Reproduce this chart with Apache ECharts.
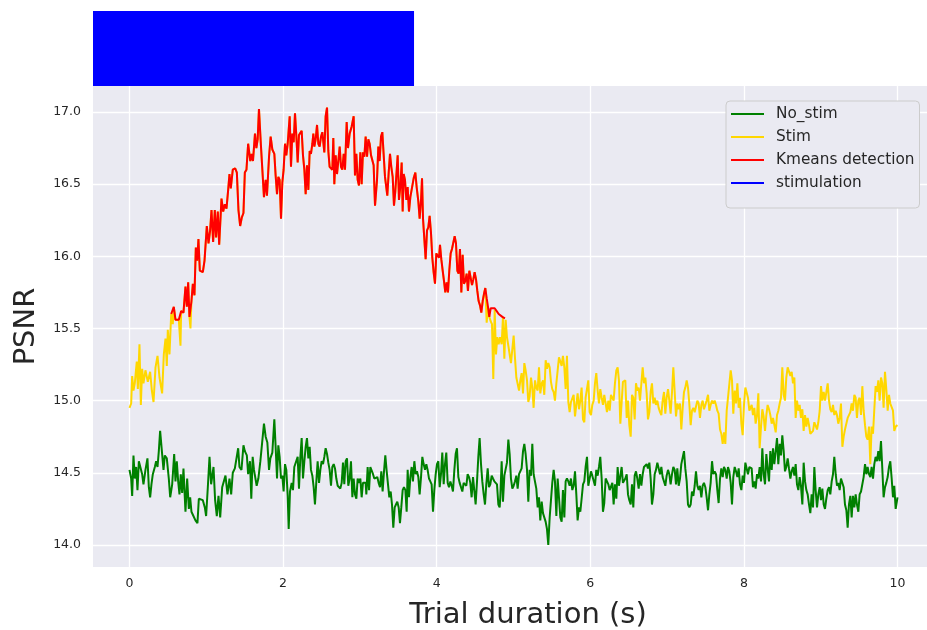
<!DOCTYPE html>
<html>
<head>
<meta charset="utf-8">
<title>PSNR</title>
<script src="https://cdn.jsdelivr.net/npm/echarts@6/dist/echarts.min.js"></script>
<style>
  html, body { margin: 0; padding: 0; background: #fff; }
  #chart { width: 927px; height: 630px; }
</style>
</head>
<body>
<div id="chart"></div>
<script>
// tick labels
const xTicks = [0, 2, 4, 6, 8, 10]
const yTicks = [14.0, 14.5, 15.0, 15.5, 16.0, 16.5, 17.0]

// [time (s), PSNR]
const noStim = [
  [0.000, 14.52], [0.022, 14.46], [0.035, 14.34], [0.052, 14.62], [0.069, 14.46], [0.087, 14.54], [0.104, 14.38], [0.122, 14.58],
  [0.143, 14.57], [0.165, 14.49], [0.182, 14.42], [0.208, 14.52], [0.234, 14.60], [0.252, 14.40], [0.269, 14.33], [0.286, 14.42],
  [0.304, 14.49], [0.330, 14.54], [0.347, 14.58], [0.365, 14.54], [0.382, 14.65], [0.399, 14.79], [0.425, 14.80], [0.443, 14.52],
  [0.460, 14.62], [0.486, 14.60], [0.512, 14.46], [0.530, 14.33], [0.556, 14.42], [0.582, 14.63], [0.599, 14.44], [0.616, 14.58],
  [0.634, 14.44], [0.651, 14.35], [0.668, 14.49], [0.686, 14.36], [0.703, 14.53], [0.729, 14.23], [0.751, 14.46], [0.773, 14.25],
  [0.790, 14.33], [0.807, 14.23], [0.833, 14.22], [0.859, 14.17], [0.885, 14.15], [0.903, 14.32], [0.929, 14.32], [0.955, 14.31],
  [0.981, 14.26], [0.998, 14.20], [1.020, 14.40], [1.042, 14.61], [1.063, 14.42], [1.094, 14.54], [1.115, 14.31], [1.137, 14.20],
  [1.159, 14.34], [1.181, 14.19], [1.207, 14.40], [1.224, 14.41], [1.250, 14.48], [1.276, 14.35], [1.302, 14.46], [1.324, 14.35],
  [1.345, 14.50], [1.372, 14.53], [1.398, 14.54], [1.415, 14.67], [1.432, 14.54], [1.458, 14.52], [1.484, 14.69], [1.502, 14.65],
  [1.528, 14.62], [1.545, 14.49], [1.569, 14.58], [1.586, 14.32], [1.604, 14.61], [1.621, 14.52], [1.639, 14.52], [1.656, 14.41],
  [1.678, 14.46], [1.704, 14.58], [1.730, 14.57], [1.751, 14.84], [1.773, 14.75], [1.795, 14.71], [1.817, 14.52], [1.834, 14.60],
  [1.860, 14.64], [1.886, 14.87], [1.903, 14.68], [1.921, 14.46], [1.938, 14.69], [1.955, 14.61], [1.973, 14.46], [1.990, 14.48],
  [2.007, 14.37], [2.025, 14.56], [2.042, 14.52], [2.060, 14.34], [2.073, 14.11], [2.090, 14.37], [2.112, 14.43], [2.129, 14.38],
  [2.146, 14.54], [2.172, 14.54], [2.190, 14.61], [2.207, 14.39], [2.224, 14.60], [2.242, 14.74], [2.259, 14.46], [2.277, 14.58],
  [2.294, 14.68], [2.311, 14.74], [2.329, 14.60], [2.346, 14.68], [2.363, 14.52], [2.381, 14.48], [2.398, 14.40], [2.415, 14.28],
  [2.433, 14.44], [2.450, 14.58], [2.468, 14.43], [2.485, 14.52], [2.502, 14.58], [2.520, 14.56], [2.537, 14.61], [2.554, 14.67],
  [2.572, 14.63], [2.589, 14.57], [2.606, 14.52], [2.624, 14.41], [2.641, 14.54], [2.659, 14.56], [2.676, 14.53], [2.693, 14.46],
  [2.711, 14.41], [2.728, 14.42], [2.745, 14.39], [2.763, 14.43], [2.780, 14.57], [2.797, 14.42], [2.815, 14.58], [2.832, 14.60],
  [2.849, 14.41], [2.867, 14.46], [2.884, 14.58], [2.902, 14.33], [2.919, 14.46], [2.936, 14.35], [2.954, 14.32], [2.971, 14.46],
  [2.988, 14.43], [3.006, 14.46], [3.023, 14.33], [3.040, 14.43], [3.058, 14.42], [3.075, 14.43], [3.084, 14.35], [3.101, 14.54],
  [3.119, 14.38], [3.136, 14.54], [3.153, 14.53], [3.171, 14.49], [3.188, 14.46], [3.210, 14.46], [3.227, 14.47], [3.244, 14.43],
  [3.262, 14.40], [3.279, 14.51], [3.296, 14.37], [3.314, 14.51], [3.331, 14.62], [3.349, 14.51], [3.366, 14.51], [3.383, 14.33],
  [3.401, 14.37], [3.418, 14.28], [3.435, 14.12], [3.453, 14.26], [3.470, 14.28], [3.487, 14.30], [3.505, 14.26], [3.522, 14.15],
  [3.539, 14.26], [3.557, 14.38], [3.574, 14.40], [3.592, 14.38], [3.609, 14.23], [3.622, 14.52], [3.639, 14.33], [3.657, 14.47],
  [3.674, 14.54], [3.691, 14.44], [3.709, 14.58], [3.726, 14.49], [3.743, 14.51], [3.761, 14.47], [3.778, 14.35], [3.796, 14.47],
  [3.813, 14.61], [3.830, 14.56], [3.848, 14.52], [3.865, 14.56], [3.882, 14.52], [3.900, 14.46], [3.917, 14.44], [3.934, 14.42],
  [3.952, 14.23], [3.969, 14.38], [3.987, 14.49], [4.004, 14.56], [4.021, 14.58], [4.039, 14.40], [4.056, 14.49], [4.073, 14.64],
  [4.091, 14.42], [4.108, 14.56], [4.125, 14.64], [4.143, 14.43], [4.160, 14.40], [4.178, 14.44], [4.195, 14.41], [4.212, 14.37],
  [4.230, 14.52], [4.247, 14.63], [4.264, 14.67], [4.282, 14.47], [4.299, 14.43], [4.316, 14.42], [4.334, 14.37], [4.351, 14.43],
  [4.369, 14.44], [4.386, 14.41], [4.403, 14.49], [4.421, 14.47], [4.438, 14.43], [4.455, 14.33], [4.473, 14.47], [4.490, 14.46],
  [4.507, 14.28], [4.525, 14.44], [4.542, 14.61], [4.559, 14.74], [4.577, 14.56], [4.594, 14.44], [4.612, 14.35], [4.629, 14.28],
  [4.646, 14.42], [4.664, 14.53], [4.681, 14.40], [4.698, 14.42], [4.716, 14.48], [4.733, 14.46], [4.751, 14.44], [4.768, 14.43],
  [4.785, 14.42], [4.803, 14.28], [4.820, 14.26], [4.828, 14.33], [4.846, 14.58], [4.863, 14.30], [4.881, 14.48], [4.898, 14.49],
  [4.915, 14.57], [4.933, 14.73], [4.950, 14.63], [4.967, 14.46], [4.985, 14.39], [5.002, 14.41], [5.019, 14.44], [5.037, 14.48],
  [5.054, 14.39], [5.072, 14.49], [5.089, 14.48], [5.106, 14.53], [5.124, 14.65], [5.141, 14.70], [5.158, 14.63], [5.176, 14.52],
  [5.193, 14.30], [5.210, 14.52], [5.228, 14.48], [5.245, 14.70], [5.262, 14.49], [5.280, 14.48], [5.297, 14.39], [5.315, 14.26],
  [5.332, 14.33], [5.349, 14.17], [5.367, 14.30], [5.384, 14.22], [5.401, 14.23], [5.419, 14.16], [5.436, 14.11], [5.453, 14.00],
  [5.471, 14.19], [5.488, 14.31], [5.505, 14.43], [5.523, 14.52], [5.540, 14.44], [5.558, 14.20], [5.575, 14.46], [5.592, 14.33],
  [5.610, 14.19], [5.627, 14.16], [5.644, 14.38], [5.662, 14.19], [5.679, 14.44], [5.696, 14.46], [5.714, 14.44], [5.731, 14.41],
  [5.748, 14.46], [5.766, 14.38], [5.783, 14.41], [5.801, 14.51], [5.818, 14.35], [5.835, 14.17], [5.853, 14.26], [5.870, 14.23],
  [5.887, 14.32], [5.905, 14.42], [5.922, 14.44], [5.939, 14.54], [5.957, 14.61], [5.974, 14.41], [5.991, 14.40], [6.009, 14.51],
  [6.026, 14.48], [6.044, 14.49], [6.061, 14.41], [6.078, 14.52], [6.096, 14.48], [6.113, 14.54], [6.130, 14.61], [6.148, 14.46],
  [6.165, 14.23], [6.182, 14.29], [6.200, 14.46], [6.217, 14.46], [6.235, 14.42], [6.252, 14.38], [6.269, 14.37], [6.287, 14.43],
  [6.304, 14.28], [6.321, 14.42], [6.339, 14.32], [6.356, 14.54], [6.373, 14.41], [6.391, 14.42], [6.408, 14.54], [6.425, 14.43],
  [6.443, 14.44], [6.456, 14.46], [6.474, 14.49], [6.491, 14.35], [6.508, 14.31], [6.526, 14.28], [6.543, 14.42], [6.560, 14.26],
  [6.578, 14.48], [6.595, 14.51], [6.612, 14.46], [6.630, 14.39], [6.647, 14.49], [6.665, 14.41], [6.682, 14.49], [6.699, 14.54],
  [6.717, 14.53], [6.734, 14.56], [6.751, 14.53], [6.769, 14.57], [6.786, 14.46], [6.803, 14.28], [6.821, 14.35], [6.838, 14.49],
  [6.855, 14.52], [6.873, 14.57], [6.890, 14.58], [6.908, 14.49], [6.925, 14.54], [6.942, 14.47], [6.960, 14.46], [6.977, 14.41],
  [6.994, 14.48], [7.012, 14.52], [7.029, 14.49], [7.046, 14.42], [7.064, 14.49], [7.081, 14.54], [7.099, 14.52], [7.116, 14.42],
  [7.133, 14.53], [7.151, 14.41], [7.168, 14.46], [7.185, 14.56], [7.203, 14.56], [7.220, 14.65], [7.237, 14.53], [7.255, 14.44],
  [7.272, 14.28], [7.289, 14.26], [7.307, 14.28], [7.324, 14.37], [7.342, 14.34], [7.359, 14.41], [7.376, 14.51], [7.394, 14.41],
  [7.411, 14.38], [7.428, 14.41], [7.446, 14.33], [7.463, 14.41], [7.480, 14.43], [7.498, 14.40], [7.515, 14.33], [7.533, 14.24],
  [7.550, 14.35], [7.567, 14.43], [7.585, 14.58], [7.602, 14.49], [7.619, 14.51], [7.637, 14.49], [7.654, 14.38], [7.671, 14.29],
  [7.689, 14.46], [7.706, 14.53], [7.724, 14.47], [7.741, 14.54], [7.758, 14.52], [7.776, 14.46], [7.793, 14.54], [7.810, 14.51],
  [7.828, 14.43], [7.845, 14.28], [7.862, 14.47], [7.880, 14.54], [7.897, 14.51], [7.915, 14.47], [7.932, 14.53], [7.949, 14.42],
  [7.967, 14.38], [7.984, 14.48], [8.001, 14.43], [8.019, 14.57], [8.036, 14.56], [8.053, 14.49], [8.071, 14.54], [8.101, 14.53],
  [8.118, 14.40], [8.136, 14.44], [8.153, 14.39], [8.171, 14.49], [8.188, 14.46], [8.205, 14.54], [8.223, 14.44], [8.240, 14.67],
  [8.257, 14.49], [8.275, 14.42], [8.292, 14.63], [8.309, 14.53], [8.327, 14.44], [8.344, 14.65], [8.362, 14.52], [8.379, 14.67],
  [8.396, 14.56], [8.414, 14.65], [8.431, 14.74], [8.448, 14.56], [8.466, 14.70], [8.483, 14.62], [8.500, 14.76], [8.518, 14.65],
  [8.535, 14.51], [8.552, 14.54], [8.570, 14.60], [8.587, 14.53], [8.605, 14.46], [8.622, 14.51], [8.639, 14.54], [8.657, 14.48],
  [8.674, 14.56], [8.691, 14.42], [8.709, 14.38], [8.726, 14.47], [8.743, 14.41], [8.761, 14.28], [8.778, 14.57], [8.796, 14.44],
  [8.813, 14.38], [8.830, 14.35], [8.848, 14.28], [8.865, 14.22], [8.882, 14.35], [8.900, 14.26], [8.917, 14.54], [8.934, 14.38],
  [8.952, 14.26], [8.969, 14.35], [8.987, 14.40], [9.004, 14.31], [9.021, 14.39], [9.039, 14.28], [9.056, 14.25], [9.073, 14.32],
  [9.091, 14.38], [9.108, 14.40], [9.125, 14.35], [9.143, 14.44], [9.160, 14.49], [9.177, 14.61], [9.195, 14.49], [9.212, 14.41],
  [9.229, 14.43], [9.247, 14.38], [9.264, 14.46], [9.282, 14.47], [9.299, 14.40], [9.316, 14.28], [9.334, 14.24], [9.351, 14.12],
  [9.368, 14.28], [9.386, 14.34], [9.403, 14.19], [9.420, 14.34], [9.438, 14.26], [9.455, 14.35], [9.472, 14.28], [9.490, 14.23],
  [9.507, 14.35], [9.525, 14.37], [9.542, 14.38], [9.559, 14.47], [9.577, 14.56], [9.594, 14.49], [9.611, 14.54], [9.629, 14.49],
  [9.646, 14.47], [9.663, 14.54], [9.681, 14.46], [9.698, 14.56], [9.715, 14.61], [9.733, 14.58], [9.750, 14.65], [9.767, 14.58],
  [9.785, 14.72], [9.802, 14.53], [9.819, 14.33], [9.837, 14.40], [9.854, 14.43], [9.872, 14.47], [9.889, 14.54], [9.906, 14.58],
  [9.924, 14.46], [9.941, 14.33], [9.958, 14.41], [9.976, 14.25], [10.000, 14.33]
]

// stim samples that are not covered by the kmeans detection
const stim = [
  [0.000, 14.95], [0.022, 14.98], [0.035, 15.17], [0.052, 15.07], [0.069, 15.12], [0.095, 15.27], [0.109, 15.08], [0.130, 15.39],
  [0.148, 14.97], [0.165, 15.22], [0.182, 15.12], [0.208, 15.21], [0.239, 15.13], [0.269, 15.20], [0.291, 15.07], [0.313, 14.99],
  [0.339, 15.23], [0.365, 15.31], [0.391, 15.16], [0.425, 15.05], [0.447, 15.32], [0.469, 15.43], [0.486, 15.24], [0.499, 15.49],
  [0.521, 15.32], [0.564, 15.53], [0.664, 15.38], [0.794, 15.50],
  [4.651, 15.54], [4.668, 15.65], [4.685, 15.58], [4.703, 15.55], [4.720, 15.53], [4.737, 15.15], [4.755, 15.63], [4.772, 15.32],
  [4.789, 15.44], [4.807, 15.39], [4.824, 15.44], [4.846, 15.39], [4.863, 15.58], [4.881, 15.29], [4.898, 15.56], [4.915, 15.44],
  [4.933, 15.38], [4.950, 15.37], [4.967, 15.26], [4.985, 15.26], [5.002, 15.45], [5.019, 15.30], [5.037, 15.16], [5.054, 15.17],
  [5.072, 15.07], [5.089, 15.14], [5.106, 15.19], [5.124, 15.05], [5.141, 15.26], [5.158, 15.21], [5.176, 15.14], [5.193, 14.99],
  [5.210, 15.03], [5.228, 15.16], [5.245, 15.09], [5.262, 14.95], [5.280, 15.14], [5.297, 15.09], [5.315, 15.07], [5.332, 15.23],
  [5.349, 15.05], [5.367, 15.12], [5.384, 15.14], [5.401, 15.04], [5.419, 15.28], [5.436, 15.22], [5.453, 15.26], [5.471, 15.23],
  [5.488, 15.13], [5.505, 15.08], [5.523, 15.06], [5.540, 15.00], [5.558, 15.12], [5.575, 15.21], [5.592, 15.30], [5.610, 15.27],
  [5.627, 15.24], [5.644, 15.31], [5.662, 15.23], [5.679, 15.08], [5.696, 15.31], [5.714, 14.99], [5.731, 14.92], [5.748, 14.99],
  [5.766, 14.99], [5.783, 15.04], [5.801, 14.89], [5.818, 14.88], [5.835, 15.05], [5.853, 14.94], [5.870, 15.00], [5.887, 15.09],
  [5.905, 14.87], [5.922, 14.85], [5.939, 15.02], [5.957, 15.02], [5.974, 15.14], [5.991, 14.92], [6.009, 14.90], [6.026, 14.97],
  [6.044, 15.00], [6.061, 15.12], [6.078, 15.19], [6.096, 15.07], [6.113, 14.98], [6.130, 15.08], [6.148, 15.02], [6.165, 14.97],
  [6.182, 15.04], [6.200, 14.98], [6.217, 14.92], [6.235, 15.00], [6.252, 14.93], [6.269, 15.04], [6.287, 15.05], [6.304, 15.00],
  [6.321, 15.12], [6.339, 15.21], [6.356, 15.23], [6.373, 15.14], [6.391, 14.84], [6.408, 14.83], [6.425, 15.13], [6.443, 15.14],
  [6.456, 15.14], [6.474, 14.88], [6.491, 15.00], [6.508, 14.83], [6.526, 14.75], [6.543, 15.04], [6.560, 15.02], [6.578, 14.87],
  [6.595, 15.12], [6.612, 15.07], [6.630, 15.09], [6.647, 15.00], [6.665, 15.12], [6.682, 15.23], [6.699, 15.12], [6.717, 15.16],
  [6.734, 15.05], [6.751, 14.87], [6.769, 14.92], [6.786, 15.06], [6.803, 15.12], [6.821, 14.98], [6.838, 15.02], [6.855, 14.97],
  [6.873, 15.00], [6.890, 14.95], [6.908, 14.92], [6.925, 14.90], [6.942, 15.00], [6.960, 15.06], [6.977, 14.91], [6.994, 15.02],
  [7.012, 15.08], [7.029, 15.00], [7.046, 14.91], [7.064, 15.06], [7.081, 15.23], [7.099, 15.06], [7.116, 14.89], [7.133, 14.98],
  [7.151, 14.94], [7.168, 14.98], [7.185, 14.80], [7.203, 14.95], [7.220, 15.06], [7.237, 15.09], [7.255, 15.14], [7.272, 15.09],
  [7.289, 14.98], [7.307, 14.83], [7.324, 14.93], [7.342, 14.95], [7.359, 14.92], [7.376, 14.91], [7.394, 15.00], [7.411, 14.98],
  [7.428, 14.88], [7.446, 14.97], [7.463, 15.00], [7.480, 14.94], [7.498, 14.93], [7.515, 15.00], [7.533, 15.04], [7.550, 14.93],
  [7.567, 14.97], [7.585, 15.00], [7.602, 14.98], [7.619, 15.00], [7.637, 14.97], [7.654, 14.93], [7.671, 14.91], [7.689, 14.80],
  [7.706, 14.77], [7.724, 14.70], [7.741, 14.78], [7.758, 14.70], [7.776, 14.93], [7.793, 15.02], [7.810, 15.02], [7.828, 15.21],
  [7.845, 15.14], [7.862, 14.91], [7.880, 15.07], [7.897, 14.98], [7.915, 15.12], [7.932, 14.95], [7.949, 15.02], [7.967, 14.84],
  [7.984, 14.76], [8.001, 14.97], [8.019, 15.09], [8.036, 15.08], [8.053, 15.02], [8.071, 14.93], [8.101, 14.97], [8.118, 14.90],
  [8.136, 14.95], [8.153, 14.84], [8.171, 14.90], [8.188, 15.05], [8.205, 14.67], [8.223, 14.82], [8.240, 14.94], [8.257, 14.89],
  [8.275, 14.79], [8.292, 14.90], [8.309, 14.97], [8.327, 14.94], [8.344, 14.90], [8.362, 14.84], [8.379, 14.88], [8.396, 14.87],
  [8.414, 14.78], [8.431, 14.90], [8.448, 14.93], [8.466, 14.98], [8.483, 15.02], [8.500, 15.23], [8.518, 15.04], [8.535, 15.00],
  [8.552, 15.16], [8.570, 15.23], [8.587, 15.22], [8.605, 15.17], [8.622, 15.20], [8.639, 15.12], [8.657, 15.16], [8.674, 14.88],
  [8.691, 15.00], [8.709, 14.93], [8.726, 14.97], [8.743, 14.88], [8.761, 14.94], [8.778, 14.79], [8.796, 14.90], [8.813, 14.82],
  [8.830, 14.88], [8.848, 14.83], [8.865, 14.77], [8.882, 14.76], [8.900, 14.79], [8.917, 14.85], [8.934, 14.84], [8.952, 14.80],
  [8.969, 14.85], [8.987, 14.93], [9.004, 15.10], [9.021, 15.00], [9.039, 15.06], [9.056, 15.00], [9.073, 15.00], [9.091, 15.12],
  [9.108, 15.00], [9.125, 14.94], [9.143, 14.92], [9.160, 14.97], [9.177, 14.90], [9.195, 14.93], [9.212, 14.90], [9.229, 14.84],
  [9.247, 14.88], [9.264, 14.98], [9.282, 14.68], [9.299, 14.75], [9.316, 14.80], [9.334, 14.79], [9.351, 14.88], [9.368, 14.87],
  [9.386, 14.92], [9.403, 14.98], [9.420, 14.93], [9.438, 15.04], [9.455, 15.02], [9.472, 14.88], [9.490, 15.00], [9.507, 15.02],
  [9.525, 14.90], [9.542, 15.10], [9.559, 14.93], [9.577, 14.83], [9.594, 14.75], [9.611, 14.73], [9.629, 14.82], [9.646, 14.56],
  [9.663, 14.82], [9.681, 14.77], [9.698, 14.94], [9.715, 15.10], [9.733, 15.06], [9.750, 15.14], [9.767, 15.00], [9.785, 15.16],
  [9.802, 15.12], [9.819, 14.95], [9.837, 15.20], [9.854, 15.08], [9.872, 14.93], [9.889, 15.04], [9.906, 14.98], [9.924, 14.97],
  [9.941, 14.93], [9.958, 14.79], [9.976, 14.82], [10.000, 14.83]
]

// part of the stim trace flagged by kmeans
const kmeans = [
  [0.543, 15.60], [0.577, 15.65], [0.599, 15.56], [0.642, 15.56], [0.673, 15.62], [0.703, 15.61], [0.729, 15.79], [0.747, 15.65],
  [0.764, 15.82], [0.781, 15.58], [0.807, 15.69], [0.825, 15.81], [0.846, 15.73], [0.864, 16.06], [0.881, 15.97], [0.898, 16.12],
  [0.916, 15.90], [0.938, 15.91], [0.955, 15.89], [0.977, 15.97], [1.007, 16.21], [1.029, 16.09], [1.050, 16.18], [1.068, 16.32],
  [1.089, 16.10], [1.111, 16.32], [1.128, 16.13], [1.150, 16.31], [1.168, 16.08], [1.198, 16.40], [1.220, 16.31], [1.241, 16.36],
  [1.263, 16.33], [1.285, 16.46], [1.302, 16.57], [1.319, 16.47], [1.345, 16.60], [1.376, 16.61], [1.398, 16.58], [1.419, 16.32],
  [1.441, 16.21], [1.463, 16.27], [1.484, 16.30], [1.502, 16.58], [1.523, 16.60], [1.545, 16.78], [1.573, 16.66], [1.591, 16.71],
  [1.608, 16.66], [1.634, 16.85], [1.652, 16.75], [1.669, 16.81], [1.686, 17.02], [1.708, 16.80], [1.730, 16.60], [1.751, 16.41],
  [1.773, 16.53], [1.790, 16.42], [1.817, 16.69], [1.838, 16.83], [1.860, 16.74], [1.886, 16.71], [1.903, 16.56], [1.921, 16.43],
  [1.938, 16.55], [1.955, 16.53], [1.973, 16.26], [1.990, 16.51], [2.007, 16.60], [2.025, 16.78], [2.042, 16.70], [2.060, 16.78],
  [2.086, 16.97], [2.103, 16.62], [2.120, 16.85], [2.138, 16.79], [2.155, 16.99], [2.172, 16.84], [2.190, 16.65], [2.207, 16.84],
  [2.224, 16.85], [2.242, 16.87], [2.259, 16.70], [2.277, 16.60], [2.294, 16.43], [2.311, 16.63], [2.329, 16.46], [2.346, 16.73],
  [2.363, 16.71], [2.381, 16.78], [2.394, 16.85], [2.407, 16.76], [2.424, 16.81], [2.442, 16.91], [2.459, 16.78], [2.476, 16.76],
  [2.494, 16.83], [2.511, 16.86], [2.528, 16.85], [2.537, 16.72], [2.554, 16.97], [2.572, 17.03], [2.589, 16.73], [2.606, 16.62],
  [2.624, 16.61], [2.641, 16.60], [2.654, 16.82], [2.667, 16.50], [2.685, 16.70], [2.702, 16.57], [2.719, 16.66], [2.737, 16.76],
  [2.754, 16.62], [2.771, 16.60], [2.789, 16.71], [2.806, 16.60], [2.828, 16.93], [2.845, 16.75], [2.867, 16.85], [2.893, 16.90],
  [2.919, 16.97], [2.936, 16.56], [2.954, 16.71], [2.971, 16.53], [2.988, 16.49], [3.006, 16.72], [3.023, 16.50], [3.040, 16.72],
  [3.058, 16.69], [3.075, 16.83], [3.093, 16.69], [3.110, 16.81], [3.127, 16.78], [3.145, 16.70], [3.162, 16.69], [3.179, 16.63],
  [3.197, 16.35], [3.223, 16.53], [3.240, 16.76], [3.257, 16.66], [3.275, 16.83], [3.292, 16.86], [3.309, 16.71], [3.327, 16.55],
  [3.344, 16.54], [3.357, 16.42], [3.375, 16.58], [3.392, 16.71], [3.409, 16.62], [3.427, 16.55], [3.444, 16.35], [3.461, 16.45],
  [3.479, 16.45], [3.492, 16.70], [3.509, 16.39], [3.526, 16.48], [3.544, 16.65], [3.557, 16.31], [3.570, 16.57], [3.587, 16.53],
  [3.605, 16.39], [3.622, 16.48], [3.639, 16.31], [3.657, 16.41], [3.678, 16.41], [3.700, 16.54], [3.722, 16.58], [3.739, 16.48],
  [3.761, 16.38], [3.778, 16.26], [3.796, 16.39], [3.809, 16.54], [3.822, 16.26], [3.839, 16.27], [3.856, 15.98], [3.874, 16.18],
  [3.891, 16.20], [3.908, 16.28], [3.926, 16.16], [3.943, 15.99], [3.960, 15.89], [3.978, 15.81], [3.995, 16.02], [4.013, 16.03],
  [4.030, 15.99], [4.043, 16.08], [4.060, 15.98], [4.078, 15.90], [4.095, 15.83], [4.112, 15.75], [4.130, 15.82], [4.147, 15.75],
  [4.164, 15.90], [4.182, 16.02], [4.199, 16.05], [4.217, 16.06], [4.234, 16.14], [4.251, 16.09], [4.269, 15.90], [4.286, 15.88],
  [4.303, 16.05], [4.321, 15.75], [4.338, 16.01], [4.355, 15.81], [4.373, 15.83], [4.390, 15.88], [4.407, 15.76], [4.425, 15.90],
  [4.442, 15.89], [4.460, 15.80], [4.477, 15.84], [4.494, 15.89], [4.512, 15.84], [4.529, 15.76], [4.546, 15.69], [4.564, 15.66],
  [4.581, 15.61], [4.599, 15.69], [4.616, 15.74], [4.633, 15.78], [4.651, 15.71], [4.668, 15.65], [4.685, 15.58], [4.703, 15.64],
  [4.729, 15.64], [4.755, 15.64], [4.781, 15.62], [4.807, 15.60], [4.824, 15.59], [4.855, 15.58], [4.889, 15.57]
]

// stimulation window drawn above the axes: [start s, end s, low, high]
const stimulation = [[-0.475, 3.705, 17.18, 17.70]]

// the stim trace = its own samples plus the kmeans part, in time order
const stimFull = stim.concat(kmeans.filter(p => p[0] < 4.64)).sort((a, b) => a[0] - b[0])

const chart = echarts.init(document.getElementById('chart'))
const font = 'DejaVu Sans'

chart.setOption({
  animation: false,
  backgroundColor: '#ffffff',
  textStyle: { fontFamily: font },
  grid: {
    left: 93,
    right: 0,
    top: 86,
    bottom: 63,
    outerBoundsMode: 'none',
    containLabel: false,
    show: true,
    backgroundColor: '#EAEAF2',
    borderWidth: 0
  },
  legend: {
    orient: 'vertical',
    left: 726,
    top: 101,
    icon: 'rect',
    itemWidth: 33,
    itemHeight: 2,
    itemGap: 7,
    padding: [5, 5, 17, 5],
    backgroundColor: '#EAEAF2',
    borderColor: '#CCCCCC',
    borderWidth: 1,
    borderRadius: 4,
    textStyle: { fontFamily: font, fontSize: 15.3, color: '#262626', lineHeight: 16, padding: [0, 0, 0, 7] },
    data: ['No_stim', 'Stim', 'Kmeans detection', 'stimulation']
  },
  xAxis: {
    type: 'value',
    min: -0.475,
    max: 10.384,
    name: 'Trial duration (s)',
    nameLocation: 'middle',
    nameGap: 34,
    // axes run past the right edge of the figure, so the title sits right of centre
    nameTextStyle: { fontFamily: font, fontSize: 29, color: '#262626', padding: [0, 0, 0, 36] },
    axisLine: { show: false },
    axisTick: { show: false, customValues: xTicks },
    axisLabel: { customValues: xTicks, margin: 10, fontSize: 12.5, color: '#262626', fontFamily: font },
    splitLine: { show: true, lineStyle: { color: '#ffffff', width: 1.3 } }
  },
  yAxis: {
    type: 'value',
    min: 13.847,
    max: 17.18,
    name: 'PSNR',
    nameLocation: 'middle',
    nameGap: 52,
    nameTextStyle: { fontFamily: font, fontSize: 29, color: '#262626' },
    axisLine: { show: false },
    axisTick: { show: false, customValues: yTicks },
    axisLabel: {
      customValues: yTicks,
      margin: 12,
      fontSize: 12.5,
      color: '#262626',
      fontFamily: font,
      formatter: v => v.toFixed(1)
    },
    splitLine: { show: true, lineStyle: { color: '#ffffff', width: 1.3 } }
  },
  series: [
    {
      name: 'No_stim',
      type: 'line',
      data: noStim,
      showSymbol: false,
      color: '#008000',
      lineStyle: { color: '#008000', width: 2 }
    },
    {
      name: 'Stim',
      type: 'line',
      data: stimFull,
      showSymbol: false,
      color: '#FFD700',
      lineStyle: { color: '#FFD700', width: 2 }
    },
    {
      name: 'Kmeans detection',
      type: 'line',
      data: kmeans,
      showSymbol: false,
      color: '#FF0000',
      lineStyle: { color: '#FF0000', width: 2 }
    },
    {
      name: 'stimulation',
      type: 'custom',
      clip: false,
      color: '#0000FF',
      itemStyle: { color: '#0000FF' },
      encode: { x: [0, 1], y: [2, 3] },
      data: stimulation,
      renderItem: (params, api) => {
        const p0 = api.coord([api.value(0), api.value(3)])
        const p1 = api.coord([api.value(1), api.value(2)])
        return {
          type: 'rect',
          shape: { x: p0[0], y: p0[1], width: p1[0] - p0[0], height: p1[1] - p0[1] },
          style: { fill: '#0000FF' }
        }
      }
    }
  ]
})
</script>
</body>
</html>
